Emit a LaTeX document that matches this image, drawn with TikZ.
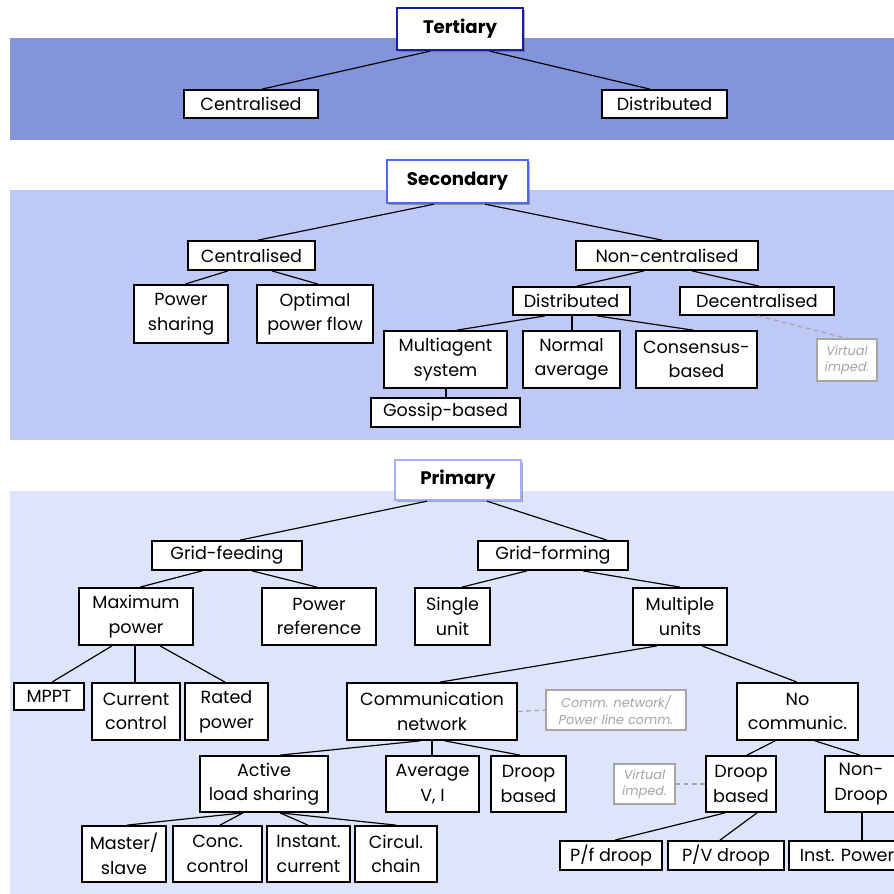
\documentclass[tikz,border=0pt]{standalone}
\usepackage{fontspec}
\setmainfont{Poppins}
\usetikzlibrary{shadows}
\definecolor{bandA}{RGB}{131,148,219}
\definecolor{bandB}{RGB}{190,201,246}
\definecolor{bandC}{RGB}{222,228,250}
\definecolor{tcol}{RGB}{28,28,170}
\definecolor{scol}{RGB}{80,105,235}
\definecolor{pcol}{RGB}{165,175,245}
\definecolor{notegray}{RGB}{165,165,165}
\tikzset{
  box/.style={draw=black, line width=1.5pt, fill=white, inner sep=0pt, align=center,
    font=\fontsize{15}{21}\selectfont},
  title/.style={box, line width=2pt, font=\fontsize{15.5}{20}\selectfont\bfseries,
    drop shadow={shadow xshift=2pt, shadow yshift=-2pt, opacity=0.45, fill=black!70}},
  note/.style={draw=notegray, line width=1pt, fill=white, inner sep=0pt, align=center,
    text=notegray, font=\fontsize{11}{14}\selectfont\itshape},
  conn/.style={line width=1pt, draw=black},
  dconn/.style={line width=1pt, draw=notegray, dash pattern=on 4pt off 3pt},
}
\newcommand\bx[7][]{\node[box,#1,minimum width={(#5-#3)*0.3mm},minimum height={(#6-#4)*0.3mm}] (#2) at ({(#3+#5)/2},{(#4+#6)/2}) {#7};}
\newcommand\ed[4]{\path (#2,0) coordinate (ea) (#4,0) coordinate (eb); \draw[conn] (#1.south -| ea) -- (#3.north -| eb);}
\begin{document}
\begin{tikzpicture}[x=0.3mm,y=-0.3mm]
\path[use as bounding box] (0,0) rectangle (894,894);
\clip (0,0) rectangle (894,894);
\fill[white] (0,0) rectangle (894,894);
% bands
\fill[bandA] (10,38) rectangle (894,140);
\fill[bandB] (10,190) rectangle (894,440);
\fill[bandC] (10,491) rectangle (894,894);

% ---------- Tertiary ----------
\bx[title,draw=tcol]{t}{397}{8}{523}{50}{Tertiary}
\bx{tc}{184}{90}{318}{118}{Centralised}
\bx{td}{602}{90}{727}{118}{Distributed}
\ed{t}{430}{tc}{262}
\ed{t}{490}{td}{650}

% ---------- Secondary ----------
\bx[title,draw=scol]{s}{387}{160}{528}{203}{Secondary}
\bx{sc}{188}{241}{315}{270}{Centralised}
\bx{snc}{576}{241}{758}{270}{Non-centralised}
\bx{ps}{134}{285}{228}{343}{Power\\sharing}
\bx{opf}{257}{285}{373}{343}{Optimal\\power flow}
\bx{dist}{513}{287}{630}{315}{Distributed}
\bx{dec}{680}{287}{834}{315}{Decentralised}
\bx{mas}{384}{331}{507}{388}{Multiagent\\system}
\bx{na}{523}{331}{620}{388}{Normal\\average}
\bx{cb}{636}{331}{757}{388}{Consensus-\\based}
\bx{gos}{371}{398}{520}{427}{Gossip-based}
\bx[note]{vi1}{817}{339}{877}{381}{Virtual\\imped.}
\ed{s}{434}{sc}{258}
\ed{s}{485}{snc}{662}
\ed{sc}{228}{ps}{185}
\ed{sc}{272}{opf}{318}
\ed{snc}{644}{dist}{577}
\ed{snc}{692}{dec}{759}
\ed{dist}{545}{mas}{457}
\ed{dist}{572}{na}{572}
\ed{dist}{597}{cb}{693}
\ed{mas}{446}{gos}{446}
\path (758,0) coordinate (da) (847,0) coordinate (db);
\draw[dconn] (dec.south -| da) -- (vi1.north -| db);

% ---------- Primary ----------
\bx[title,draw=pcol]{p}{395}{460}{521}{500}{Primary}
\bx{gf}{152}{541}{302}{570}{Grid-feeding}
\bx{gfo}{478}{541}{628}{570}{Grid-forming}
\bx{mp}{79}{588}{193}{645}{Maximum\\power}
\bx{pr}{262}{588}{376}{645}{Power\\reference}
\bx{su}{415}{588}{490}{645}{Single\\unit}
\bx{mu}{633}{588}{727}{645}{Multiple\\units}
\bx{mppt}{14}{683}{84}{710}{MPPT}
\bx{cc}{92}{683}{180}{740}{Current\\control}
\bx{rp}{185}{683}{268}{740}{Rated\\power}
\bx{cn}{347}{683}{517}{740}{Communication\\network}
\bx[note]{cnn}{546}{690}{686}{730}{Comm. network/\\Power line comm.}
\bx{nc}{737}{683}{858}{740}{No\\communic.}
\bx{als}{200}{756}{328}{812}{Active\\load sharing}
\bx{av}{386}{756}{479}{812}{Average\\V, I}
\bx{db}{491}{756}{566}{812}{Droop\\based}
\bx[note]{vi2}{614}{764}{675}{804}{Virtual\\imped.}
\bx{db2}{706}{756}{776}{812}{Droop\\based}
\bx{nd}{825}{756}{897}{812}{Non-\\Droop}
\bx{ms}{82}{826}{166}{882}{Master/\\slave}
\bx{conc}{173}{826}{262}{882}{Conc.\\control}
\bx{inst}{267}{826}{350}{882}{Instant.\\current}
\bx{circ}{355}{826}{437}{882}{Circul.\\chain}
\bx{pf}{560}{841}{662}{870}{P/f droop}
\bx{pv}{668}{841}{784}{870}{P/V droop}
\bx{ip}{789}{841}{905}{870}{Inst. Power}
\ed{p}{427}{gf}{240}
\ed{p}{487}{gfo}{607}
\ed{gf}{202}{mp}{140}
\ed{gf}{252}{pr}{317}
\ed{gfo}{527}{su}{462}
\ed{gfo}{583}{mu}{680}
\ed{mp}{112}{mppt}{52}
\ed{mp}{135}{cc}{135}
\ed{mp}{160}{rp}{225}
\ed{mu}{657}{cn}{440}
\ed{mu}{702}{nc}{797}
\ed{cn}{420}{als}{280}
\ed{cn}{432}{av}{432}
\ed{cn}{445}{db}{520}
\ed{nc}{775}{db2}{747}
\ed{nc}{815}{nd}{860}
\ed{als}{243}{ms}{127}
\ed{als}{243}{conc}{220}
\ed{als}{280}{inst}{308}
\ed{als}{280}{circ}{396}
\ed{db2}{725}{pf}{615}
\ed{db2}{757}{pv}{720}
\ed{nd}{862}{ip}{862}
\draw[dconn] (cn.east) -- (cnn.west);
\draw[dconn] (vi2.east) -- (db2.west);
\end{tikzpicture}
\end{document}
